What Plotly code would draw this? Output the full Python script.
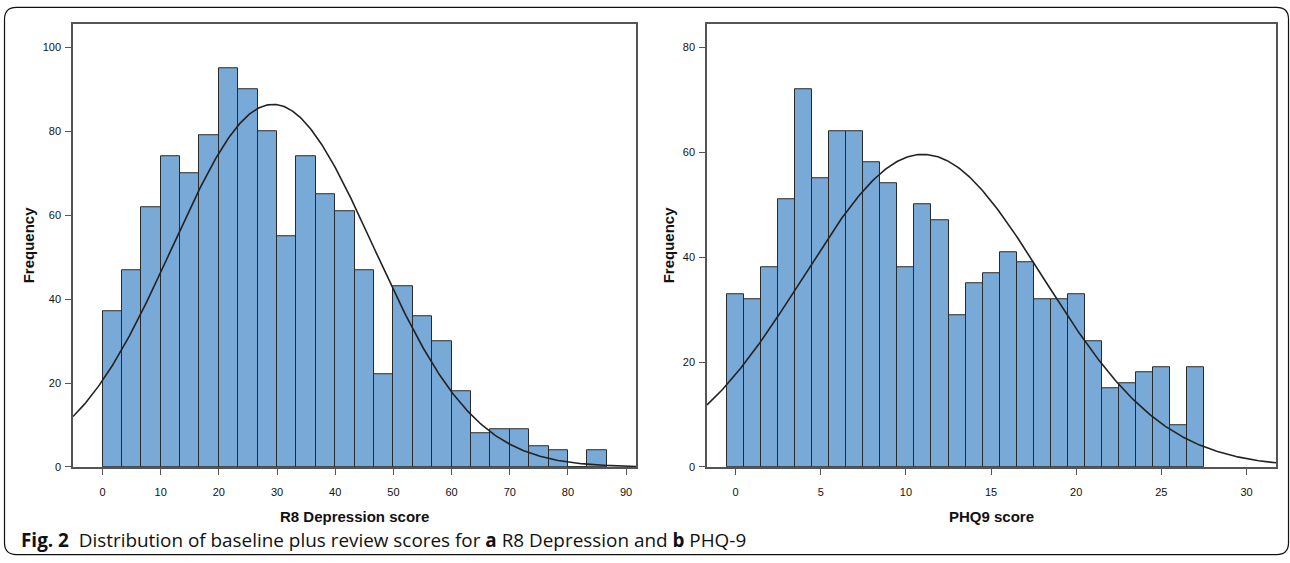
import numpy as np
import plotly.graph_objects as go

# ---------------- data ----------------
r8_bin_start = 0.0
r8_bin_width = 10 / 3
r8_counts = [37, 47, 62, 74, 70, 79, 95, 90, 80, 55, 74, 65, 61, 47, 22, 43,
             36, 30, 18, 8, 9, 9, 5, 4, 0, 4]
r8_mean = 29.3
r8_sd = 17.3

phq_bin_start = -0.5
phq_bin_width = 1.0
phq_counts = [33, 32, 38, 51, 72, 55, 64, 64, 58, 54, 38, 50, 47, 29, 35, 37,
              41, 39, 32, 32, 33, 24, 15, 16, 18, 19, 8, 19]
phq_mean = 11.0
phq_sd = 7.05

r8_xticks = [0, 10, 20, 30, 40, 50, 60, 70, 80, 90]
r8_yticks = [0, 20, 40, 60, 80, 100]
phq_xticks = [0, 5, 10, 15, 20, 25, 30]
phq_yticks = [0, 20, 40, 60, 80]

r8_xrange = [-5.07, 91.7]
r8_yrange = [0, 105.5]
phq_xrange = [-1.68, 31.73]
phq_yrange = [0, 84.4]

caption_html = ("<b>Fig. 2</b>  Distribution of baseline plus review scores for "
                "<b>a</b> R8 Depression and <b>b</b> PHQ-9")

BAR_FILL = "#79a9d7"
BAR_LINE = "#2a2a2a"
CURVE = "#222222"


def centers(start, width, n):
    return [start + width * (i + 0.5) for i in range(n)]


def normal_curve(mean, sd, n_total, width, xr):
    xs = np.linspace(xr[0], xr[1], 400)
    ys = n_total * width / (sd * np.sqrt(2 * np.pi)) * np.exp(-0.5 * ((xs - mean) / sd) ** 2)
    return xs, ys


fig = go.Figure()

# left histogram
fig.add_trace(go.Bar(
    x=centers(r8_bin_start, r8_bin_width, len(r8_counts)), y=r8_counts,
    width=r8_bin_width, marker=dict(color=BAR_FILL, line=dict(color=BAR_LINE, width=1)),
    xaxis="x", yaxis="y", showlegend=False, hoverinfo="x+y"))
cx, cy = normal_curve(r8_mean, r8_sd, sum(r8_counts), r8_bin_width, r8_xrange)
fig.add_trace(go.Scatter(x=cx, y=cy, mode="lines", line=dict(color=CURVE, width=1.6),
                         xaxis="x", yaxis="y", showlegend=False, hoverinfo="skip"))

# right histogram
fig.add_trace(go.Bar(
    x=centers(phq_bin_start, phq_bin_width, len(phq_counts)), y=phq_counts,
    width=phq_bin_width, marker=dict(color=BAR_FILL, line=dict(color=BAR_LINE, width=1)),
    xaxis="x2", yaxis="y2", showlegend=False, hoverinfo="x+y"))
cx2, cy2 = normal_curve(phq_mean, phq_sd, sum(phq_counts), phq_bin_width, phq_xrange)
fig.add_trace(go.Scatter(x=cx2, y=cy2, mode="lines", line=dict(color=CURVE, width=1.6),
                         xaxis="x2", yaxis="y2", showlegend=False, hoverinfo="skip"))

W, H = 1290, 563
ydom = [1 - 472 / H, 1 - 24.5 / H]
tickfont = dict(family="Liberation Sans, Arial, sans-serif", size=11, color="#111")

axis_common = dict(showgrid=False, zeroline=False, showline=True, linecolor="#555",
                   linewidth=1.5, mirror=True, ticks="outside", ticklen=6,
                   tickcolor="#555", tickwidth=1.2, tickfont=tickfont, fixedrange=True)

fig.update_layout(
    width=W, height=H,
    margin=dict(l=0, r=0, t=0, b=0),
    paper_bgcolor="white", plot_bgcolor="white",
    bargap=0,
    xaxis=dict(domain=[73 / W, 636 / W], range=r8_xrange, tickvals=r8_xticks,
               anchor="y", ticklabelstandoff=8, **axis_common),
    yaxis=dict(domain=ydom, range=r8_yrange, tickvals=r8_yticks, anchor="x",
               ticklabelstandoff=2, **axis_common),
    xaxis2=dict(domain=[707 / W, 1276 / W], range=phq_xrange, tickvals=phq_xticks,
                anchor="y2", ticklabelstandoff=8, **axis_common),
    yaxis2=dict(domain=ydom, range=phq_yrange, tickvals=phq_yticks, anchor="x2",
                ticklabelstandoff=2, **axis_common),
)

titlefont = dict(family="Liberation Sans, Arial, sans-serif", size=15, color="#111")
ann = [
    dict(text="<b>R8 Depression score</b>", x=(73 + 636) / 2 / W, y=1 - 522 / H),
    dict(text="<b>PHQ9 score</b>", x=(707 + 1276) / 2 / W, y=1 - 522 / H),
]
for a in ann:
    fig.add_annotation(xref="paper", yref="paper", x=a["x"], y=a["y"], text=a["text"],
                       showarrow=False, xanchor="center", yanchor="middle", font=titlefont)
for xpos in [28, 668]:
    fig.add_annotation(xref="paper", yref="paper", x=xpos / W, y=1 - 248 / H,
                       text="<b>Frequency</b>", textangle=-90, showarrow=False,
                       xanchor="center", yanchor="middle", font=titlefont)

fig.add_annotation(xref="paper", yref="paper", x=19 / W, y=1 - 546 / H, text=caption_html,
                   showarrow=False, xanchor="left", yanchor="middle",
                   font=dict(family="Open Sans, Noto Sans, sans-serif", size=18.9, color="#111"))

# outer rounded frame
x0, y0, x1, y1, r = 4.5, 7.5, 1288.5, 560.5, 12
path = (f"M {x0+r},{y0} L {x1-r},{y0} Q {x1},{y0} {x1},{y0+r} L {x1},{y1-r} "
        f"Q {x1},{y1} {x1-r},{y1} L {x0+r},{y1} Q {x0},{y1} {x0},{y1-r} "
        f"L {x0},{y0+r} Q {x0},{y0} {x0+r},{y0} Z")


def px_path(p):
    toks = p.replace(",", " ").split()
    i = 0
    res = []
    while i < len(toks):
        t = toks[i]
        if t.isalpha():
            res.append(t)
            i += 1
        else:
            xv = float(toks[i]) / W
            yv = 1 - float(toks[i + 1]) / H
            res.append(f"{xv:.5f},{yv:.5f}")
            i += 2
    return " ".join(res)


fig.add_shape(type="path", xref="paper", yref="paper", path=px_path(path),
              line=dict(color="#111", width=1.2), fillcolor="rgba(0,0,0,0)", layer="below")

fig.write_html("out.html")
